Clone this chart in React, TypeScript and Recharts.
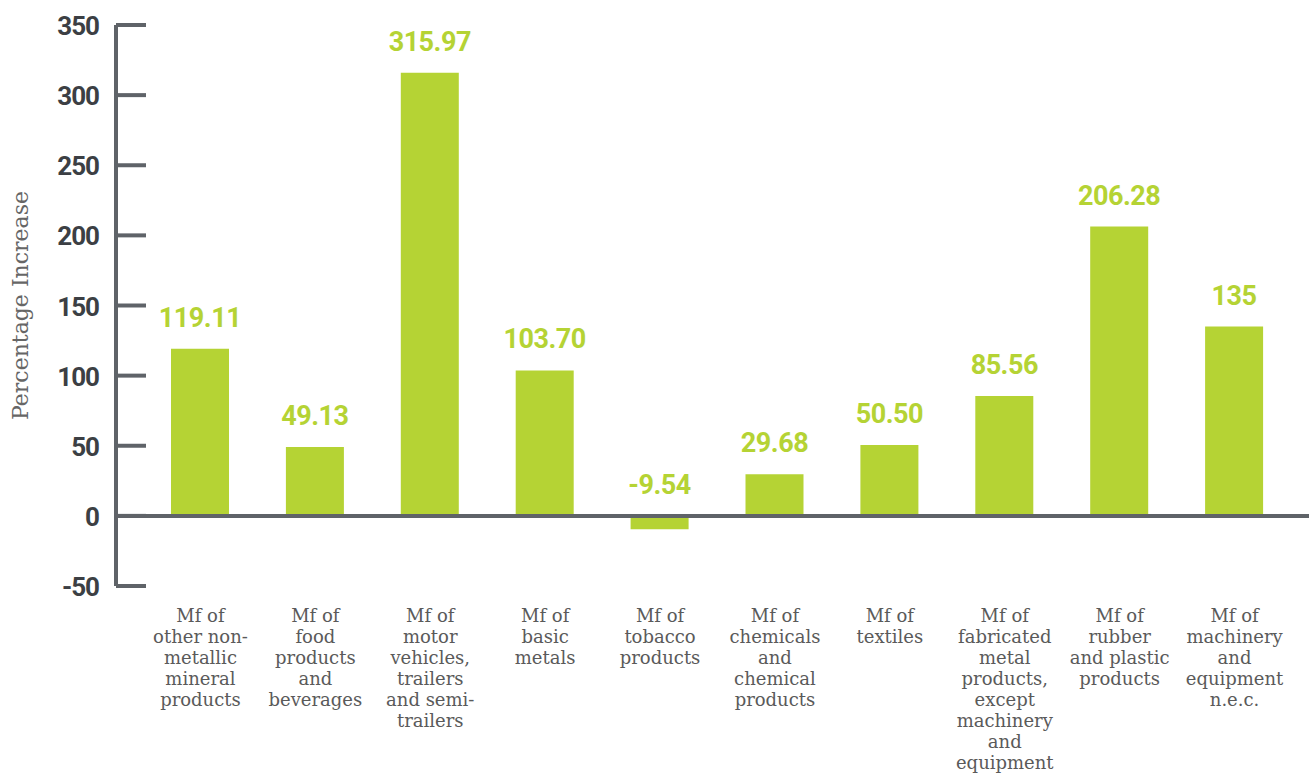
import React from 'react';
import {
  BarChart,
  Bar,
  XAxis,
  YAxis,
  ReferenceLine,
  LabelList,
} from 'recharts';

const categories = [
  'Mf of\nother non-\nmetallic\nmineral\nproducts',
  'Mf of\nfood\nproducts\nand\nbeverages',
  'Mf of\nmotor\nvehicles,\ntrailers\nand semi-\ntrailers',
  'Mf of\nbasic\nmetals',
  'Mf of\ntobacco\nproducts',
  'Mf of\nchemicals\nand\nchemical\nproducts',
  'Mf of\ntextiles',
  'Mf of\nfabricated\nmetal\nproducts,\nexcept\nmachinery\nand\nequipment',
  'Mf of\nrubber\nand plastic\nproducts',
  'Mf of\nmachinery\nand\nequipment\nn.e.c.',
];

const increase = [119.11, 49.13, 315.97, 103.7, -9.54, 29.68, 50.5, 85.56, 206.28, 135];

const valueLabels = ['119.11', '49.13', '315.97', '103.70', '-9.54', '29.68', '50.50', '85.56', '206.28', '135'];

const yTicks = [-50, 0, 50, 100, 150, 200, 250, 300, 350];

const data = categories.map((name, i) => ({ name, value: increase[i], label: valueLabels[i] }));

const GREEN = '#b5d334';
const AXIS = '#5f6368';
const NUM_FONT = 'Roboto, sans-serif';
const SERIF = "'DejaVu Serif', serif";

const YTick = (props: any) => {
  const { x, y, payload } = props;
  return (
    <g>
      <line x1={x} x2={x + 30} y1={y} y2={y} stroke={AXIS} strokeWidth={4} />
      <text
        x={x - 17}
        y={y + 10}
        textAnchor="end"
        fill="#3c3f44"
        fontSize={26}
        fontWeight={700}
        fontFamily={NUM_FONT}
        letterSpacing={-1}
      >
        {payload.value}
      </text>
    </g>
  );
};

const XTick = (props: any) => {
  const { x, y, payload } = props;
  const lines = String(payload.value).split('\n');
  return (
    <text x={x} y={y + 36} textAnchor="middle" fill="#5a5a5a" fontSize={18} fontFamily={SERIF}>
      {lines.map((l, i) => (
        <tspan key={i} x={x} dy={i === 0 ? 0 : 21}>
          {l}
        </tspan>
      ))}
    </text>
  );
};

const ValueLabel = (props: any) => {
  const { x, y, width, height, index } = props;
  const top = Math.min(y, y + height);
  return (
    <text
      x={x + width / 2}
      y={top - 22}
      textAnchor="middle"
      fill={GREEN}
      fontSize={27}
      fontWeight={700}
      fontFamily={NUM_FONT}
      letterSpacing={-0.5}
    >
      {data[index].label}
    </text>
  );
};

const YLabel = (props: any) => {
  const { viewBox } = props;
  const cy = viewBox.y + viewBox.height / 2;
  return (
    <text
      x={28}
      y={cy}
      transform={`rotate(-90, 28, ${cy})`}
      textAnchor="middle"
      fill="#666"
      fontSize={22}
      fontFamily={SERIF}
    >
      Percentage Increase
    </text>
  );
};

export default function App() {
  return (
    <div style={{ position: 'absolute', left: 0, top: 0, background: '#fff' }}>
      <BarChart
        width={1309}
        height={774}
        data={data}
        margin={{ top: 25, right: 0, left: 0, bottom: 0 }}
      >
        <XAxis
          dataKey="name"
          height={188}
          axisLine={false}
          tickLine={false}
          tickSize={0}
          tickMargin={0}
          interval={0}
          padding={{ left: 27, right: 17 }}
          tick={<XTick />}
        />
        <YAxis
          width={116}
          domain={[-50, 350]}
          ticks={yTicks}
          interval={0}
          axisLine={{ stroke: AXIS, strokeWidth: 4 }}
          tickLine={false}
          tickSize={0}
          tickMargin={0}
          tick={<YTick />}
          label={<YLabel />}
        />
        <Bar dataKey="value" fill={GREEN} barSize={58} isAnimationActive={false}>
          <LabelList dataKey="value" content={<ValueLabel />} />
        </Bar>
        <ReferenceLine y={0} stroke={AXIS} strokeWidth={4} />
      </BarChart>
    </div>
  );
}
